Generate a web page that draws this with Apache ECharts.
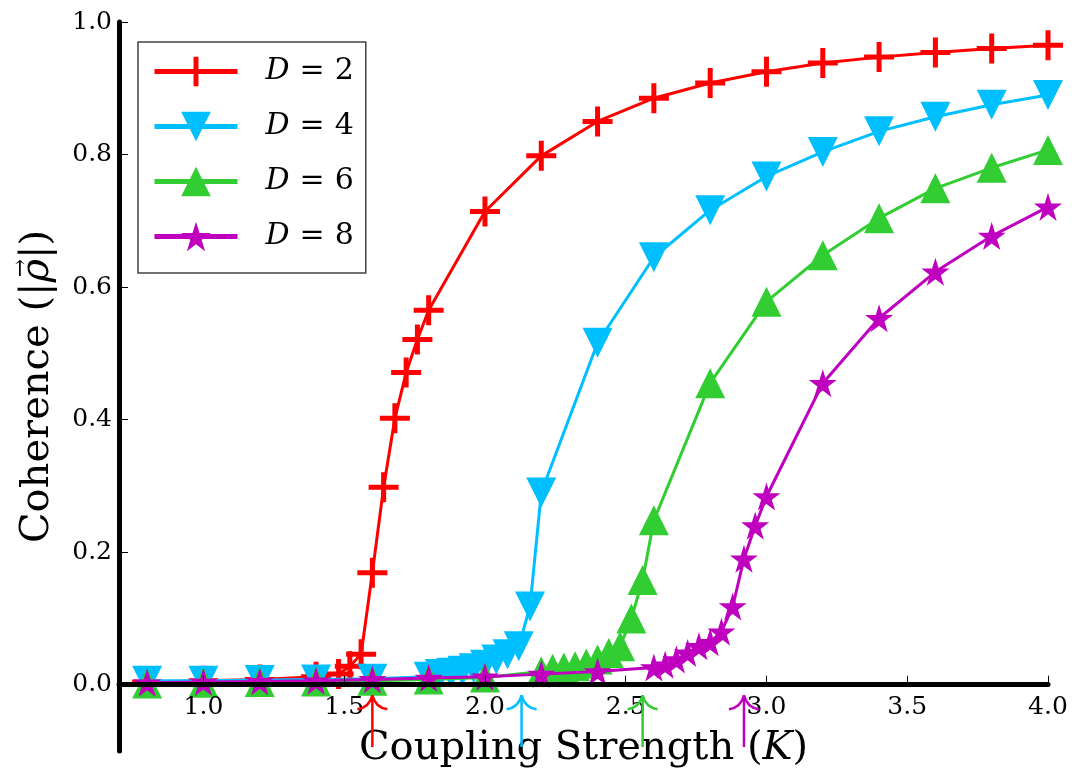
<!DOCTYPE html>
<html lang="en">
<head>
    <meta charset="UTF-8">
    <title>Coherence vs coupling strength</title>
    <script src="https://cdn.jsdelivr.net/npm/echarts@6.0.0/dist/echarts.min.js"></script>
    <style>
        html, body { margin: 0; padding: 0; background: #fff; }
    </style>
</head>
<body>
    <div id="main" style="width: 1074px;height:775px;"></div>

    <script type="text/javascript">

        // D = 2
        var kD2 = [0.8, 1.0, 1.2, 1.4, 1.48, 1.52, 1.56, 1.60, 1.64, 1.68, 1.72, 1.76, 1.80,
                   2.0, 2.2, 2.4, 2.6, 2.8, 3.0, 3.2, 3.4, 3.6, 3.8, 4.0]
        var rD2 = [0.004, 0.006, 0.008, 0.012, 0.016, 0.028, 0.046, 0.169, 0.298, 0.402, 0.471, 0.521, 0.565,
                   0.714, 0.798, 0.850, 0.885, 0.908, 0.925, 0.938, 0.947, 0.954, 0.960, 0.965]

        // D = 4
        var kD4 = [0.8, 1.0, 1.2, 1.4, 1.6, 1.8, 1.84, 1.88, 1.92, 1.96, 2.0, 2.04, 2.08, 2.12, 2.16,
                   2.2, 2.4, 2.6, 2.8, 3.0, 3.2, 3.4, 3.6, 3.8, 4.0]
        var rD4 = [0.006, 0.006, 0.007, 0.008, 0.009, 0.012, 0.016, 0.018, 0.021, 0.025, 0.030, 0.038, 0.046, 0.058, 0.118,
                   0.290, 0.516, 0.645, 0.716, 0.767, 0.804, 0.835, 0.857, 0.875, 0.890]

        // D = 6
        var kD6 = [0.8, 1.0, 1.2, 1.4, 1.6, 1.8, 2.0, 2.2, 2.24, 2.28, 2.32, 2.36, 2.40, 2.44, 2.48, 2.52, 2.56, 2.60,
                   2.8, 3.0, 3.2, 3.4, 3.6, 3.8, 4.0]
        var rD6 = [0.002, 0.003, 0.004, 0.005, 0.006, 0.008, 0.011, 0.020, 0.024, 0.026, 0.028, 0.032, 0.038, 0.048, 0.058, 0.100, 0.158, 0.248,
                   0.455, 0.578, 0.648, 0.704, 0.749, 0.780, 0.807]

        // D = 8
        var kD8 = [0.8, 1.0, 1.2, 1.4, 1.6, 1.8, 2.0, 2.2, 2.4, 2.6, 2.64, 2.68, 2.72, 2.76, 2.80, 2.84, 2.88, 2.92, 2.96,
                   3.0, 3.2, 3.4, 3.6, 3.8, 4.0]
        var rD8 = [0.003, 0.004, 0.005, 0.006, 0.008, 0.010, 0.012, 0.016, 0.020, 0.026, 0.030, 0.038, 0.048, 0.058, 0.064, 0.080, 0.118, 0.190, 0.240,
                   0.284, 0.455, 0.553, 0.623, 0.677, 0.721]

        var seriesNames = ['D=2', 'D=4', 'D=6', 'D=8']
        var colors = ['#ff0000', '#00bfff', '#32cd32', '#bf00bf']

        // critical coupling arrows below the axis
        var arrowK = [1.60, 2.13, 2.56, 2.92]
        var arrowTip = -0.016
        var arrowBase = -0.094

        var xTicks = [1.0, 1.5, 2.0, 2.5, 3.0, 3.5, 4.0]
        var yTicks = [0.0, 0.2, 0.4, 0.6, 0.8, 1.0]
        var yMin = -0.1, yMax = 1.0

        var FONT = '"DejaVu Serif", serif'

        var H = 775, gridTop = 22, gridBottom = 24
        // move the bottom axis up to y = 0
        var xAxisOffset = -(0 - yMin) / (yMax - yMin) * (H - gridTop - gridBottom)

        var plusPath = 'path://M12.5,0H17.5V12.5H30V17.5H17.5V30H12.5V17.5H0V12.5H12.5Z'
        var starPath = 'path://M0,-100L22.45,-30.9L95.1,-30.9L36.33,11.8L58.8,80.9L0,38.2L-58.8,80.9L-36.33,11.8L-95.1,-30.9L-22.45,-30.9Z'

        function zip(xs, ys) {
            var out = []
            for (var i = 0; i < xs.length; i++) out.push([xs[i], ys[i]])
            return out
        }

        function lineSeries(idx, data, symbol, size, rotate) {
            return {
                name: seriesNames[idx],
                type: 'line',
                data: data,
                symbol: symbol,
                symbolSize: size,
                symbolRotate: rotate || 0,
                showSymbol: true,
                showAllSymbol: true,
                clip: false,
                z: 2 + idx,
                lineStyle: { color: colors[idx], width: 3 },
                itemStyle: { color: colors[idx], opacity: 1 },
                emphasis: { disabled: true }
            }
        }

        function renderArrow(params, api) {
            var tip = api.coord([api.value(0), api.value(1)])
            var base = api.coord([api.value(0), api.value(2)])
            var c = colors[params.dataIndex]
            var st = { stroke: c, lineWidth: 2.5, fill: null }
            return {
                type: 'group',
                children: [
                    { type: 'line', shape: { x1: base[0], y1: base[1], x2: tip[0], y2: tip[1] }, style: st },
                    { type: 'bezierCurve', shape: { x1: tip[0], y1: tip[1], cpx1: tip[0] - 3, cpy1: tip[1] + 12, x2: tip[0] - 15, y2: tip[1] + 14 }, style: st },
                    { type: 'bezierCurve', shape: { x1: tip[0], y1: tip[1], cpx1: tip[0] + 3, cpy1: tip[1] + 12, x2: tip[0] + 15, y2: tip[1] + 14 }, style: st }
                ]
            }
        }

        var myChart = echarts.init(document.getElementById('main'));

        var option = {
            animation: false,
            backgroundColor: '#fff',
            grid: {
                left: 119, right: 26, top: gridTop, bottom: gridBottom,
                containLabel: false,
                outerBoundsMode: 'none'
            },
            graphic: [{
                // vector arrow over the rho of the y axis title
                type: 'text',
                x: 21,
                y: 268,
                rotation: Math.PI / 2,
                silent: true,
                style: {
                    text: '→', font: '22px "DejaVu Serif", serif', fill: '#000',
                    align: 'center', verticalAlign: 'middle'
                }
            }],
            legend: {
                data: seriesNames,
                orient: 'vertical',
                left: 138,
                top: 42,
                padding: [11, 12, 18, 14],
                itemWidth: 83,
                itemHeight: 37,
                itemGap: 18,
                backgroundColor: '#fff',
                borderColor: '#444',
                borderWidth: 1.5,
                borderRadius: 0,
                lineStyle: { width: 5 },
                formatter: function (name) {
                    return '{i|D}{e|=}' + name.split('=')[1]
                },
                textStyle: {
                    fontFamily: FONT, fontSize: 30, color: '#000', lineHeight: 37,
                    rich: {
                        i: { fontFamily: FONT, fontSize: 30, fontStyle: 'italic', color: '#000', padding: [0, 0, 0, 23] },
                        e: { fontFamily: FONT, fontSize: 30, color: '#000', padding: [0, 10] }
                    }
                }
            },
            xAxis: {
                type: 'value',
                min: 0.7,
                max: 4.0,
                z: 10,
                offset: xAxisOffset,
                name: 'Coupling Strength ({i|K})',
                nameLocation: 'middle',
                nameGap: 44,
                nameTextStyle: {
                    fontFamily: FONT, fontSize: 40, color: '#000', lineHeight: 40,
                    rich: { i: { fontFamily: FONT, fontSize: 40, fontStyle: 'italic', color: '#000' } }
                },
                axisLine: { onZero: false, lineStyle: { color: '#000', width: 5 } },
                axisTick: { show: true, inside: true, length: 9, customValues: xTicks,
                            lineStyle: { color: '#000', width: 1 } },
                axisLabel: {
                    customValues: xTicks,
                    margin: 10,
                    fontFamily: FONT, fontSize: 25, color: '#000',
                    formatter: function (v) { return Number(v).toFixed(1) }
                },
                splitLine: { show: false }
            },
            yAxis: {
                type: 'value',
                min: yMin,
                max: yMax,
                z: 10,
                name: 'Coherence (|{r|ρ}|)',
                nameLocation: 'middle',
                nameGap: 61,
                nameTextStyle: {
                    fontFamily: FONT, fontSize: 40, color: '#000', lineHeight: 40,
                    rich: { r: { fontFamily: FONT, fontSize: 40, fontStyle: 'italic', color: '#000' } }
                },
                axisLine: { onZero: false, lineStyle: { color: '#000', width: 5 } },
                axisTick: { show: true, inside: true, length: 9, customValues: yTicks,
                            lineStyle: { color: '#000', width: 1 } },
                axisLabel: {
                    customValues: yTicks,
                    margin: 7,
                    fontFamily: FONT, fontSize: 25, color: '#000',
                    formatter: function (v) { return Number(v).toFixed(1) }
                },
                splitLine: { show: false }
            },
            series: [
                lineSeries(0, zip(kD2, rD2), plusPath, 30),
                lineSeries(1, zip(kD4, rD4), 'triangle', 30, 180),
                lineSeries(2, zip(kD6, rD6), 'triangle', 30),
                lineSeries(3, zip(kD8, rD8), starPath, 28),
                {
                    type: 'custom',
                    silent: true,
                    clip: false,
                    z: 20,
                    data: arrowK.map(function (k) { return [k, arrowTip, arrowBase] }),
                    encode: { x: 0, y: [1, 2] },
                    renderItem: renderArrow
                }
            ]
        };
        myChart.setOption(option);
    </script>
</body>
</html>
